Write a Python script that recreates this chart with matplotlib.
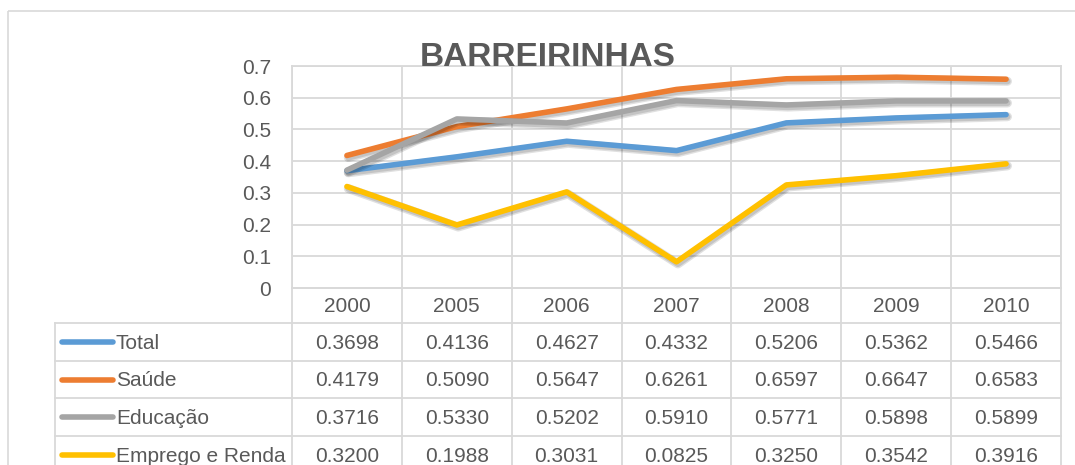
import matplotlib
matplotlib.use("Agg")
import matplotlib.pyplot as plt
import matplotlib.patheffects as pe
from matplotlib.lines import Line2D
from matplotlib.patches import Rectangle

title = "BARREIRINHAS"
years = ["2000", "2005", "2006", "2007", "2008", "2009", "2010"]
series_names = ["Total", "Saúde", "Educação", "Emprego e Renda"]
total = [0.3698, 0.4136, 0.4627, 0.4332, 0.5206, 0.5362, 0.5466]
saude = [0.4179, 0.5090, 0.5647, 0.6261, 0.6597, 0.6647, 0.6583]
educacao = [0.3716, 0.5330, 0.5202, 0.5910, 0.5771, 0.5898, 0.5899]
emprego = [0.3200, 0.1988, 0.3031, 0.0825, 0.3250, 0.3542, 0.3916]
colors = ["#5B9BD5", "#ED7D31", "#A5A5A5", "#FFC000"]
yticks = [0, 0.1, 0.2, 0.3, 0.4, 0.5, 0.6, 0.7]

series = [total, saude, educacao, emprego]

W, H = 1075, 465
plt.rcParams['font.family'] = ['Liberation Sans', 'DejaVu Sans']
fig = plt.figure(figsize=(W / 100, H / 100), dpi=100)
fig.patch.set_facecolor('white')

TXT = "#595959"
GRID = "#D9D9D9"
L, R, T, B = 292, 1061, 66, 288
FS = 15

# overlay in pixel coordinates
ov = fig.add_axes([0, 0, 1, 1])
ov.set_xlim(0, W)
ov.set_ylim(H, 0)
ov.axis('off')
ov.add_patch(Rectangle((8, 11), 1100, 500, fill=False, edgecolor=GRID, lw=1.2))

ax = fig.add_axes([L / W, 1 - B / H, (R - L) / W, (B - T) / H])
ax.set_facecolor('none')
x = list(range(len(years)))
for i in range(len(series)):
    ax.plot(x, series[i], color=colors[i], lw=4.0, solid_capstyle='round',
            solid_joinstyle='round', zorder=3 + i,
            path_effects=[pe.SimpleLineShadow(offset=(1.0, -1.5), shadow_color='black', alpha=0.12, linewidth=6.5),
                          pe.SimpleLineShadow(offset=(1.0, -1.5), shadow_color='black', alpha=0.12, linewidth=4.5),
                          pe.Normal()])
ax.set_xlim(-0.5, len(years) - 0.5)
ax.set_ylim(0, 0.7)
ax.set_yticks(yticks)
ax.set_yticklabels(["0" if v == 0 else f"{v:.1f}" for v in yticks])
ax.set_xticks([i - 0.5 for i in range(len(years) + 1)])
ax.set_xticklabels([])
ax.tick_params(axis='both', length=0, colors=TXT, labelsize=FS, pad=15)
ax.tick_params(axis='x', pad=0)
ax.grid(True, color=GRID, lw=1.3)
for s in ax.spines.values():
    s.set_color(GRID)
    s.set_linewidth(1.3)
ax.set_axisbelow(True)

fig.text(548 / W, 1 - 58 / H, title, ha='center', va='center', fontsize=24,
         fontweight='bold', color=TXT)

# data table
colw = (R - L) / len(years)
rows_y = [288, 323, 361, 398, 436, 474]
lw = 1.3
ov.add_line(Line2D([L, R], [rows_y[0], rows_y[0]], color=GRID, lw=lw))
for yy in rows_y[1:]:
    ov.add_line(Line2D([55, R], [yy, yy], color=GRID, lw=lw))
ov.add_line(Line2D([55, 55], [rows_y[1], rows_y[-1]], color=GRID, lw=lw))
for k in range(len(years) + 1):
    xx = L + k * colw
    ov.add_line(Line2D([xx, xx], [rows_y[0], rows_y[-1]], color=GRID, lw=lw))
for k, yr in enumerate(years):
    ov.text(L + (k + 0.5) * colw, (rows_y[0] + rows_y[1]) / 2 + 1, yr, ha='center', va='center',
            fontsize=FS, color=TXT)
for r, (name, vals) in enumerate(zip(series_names, series)):
    yc = (rows_y[r + 1] + rows_y[r + 2]) / 2 + 1
    ov.add_line(Line2D([62, 113], [yc - 1, yc - 1], color=colors[r], lw=4.0, solid_capstyle='round'))
    ov.text(116, yc, name, ha='left', va='center', fontsize=FS, color=TXT)
    for k, v in enumerate(vals):
        ov.text(L + (k + 0.5) * colw, yc, f"{v:.4f}", ha='center', va='center',
                fontsize=FS, color=TXT)

fig.savefig("out.png", dpi=100)
